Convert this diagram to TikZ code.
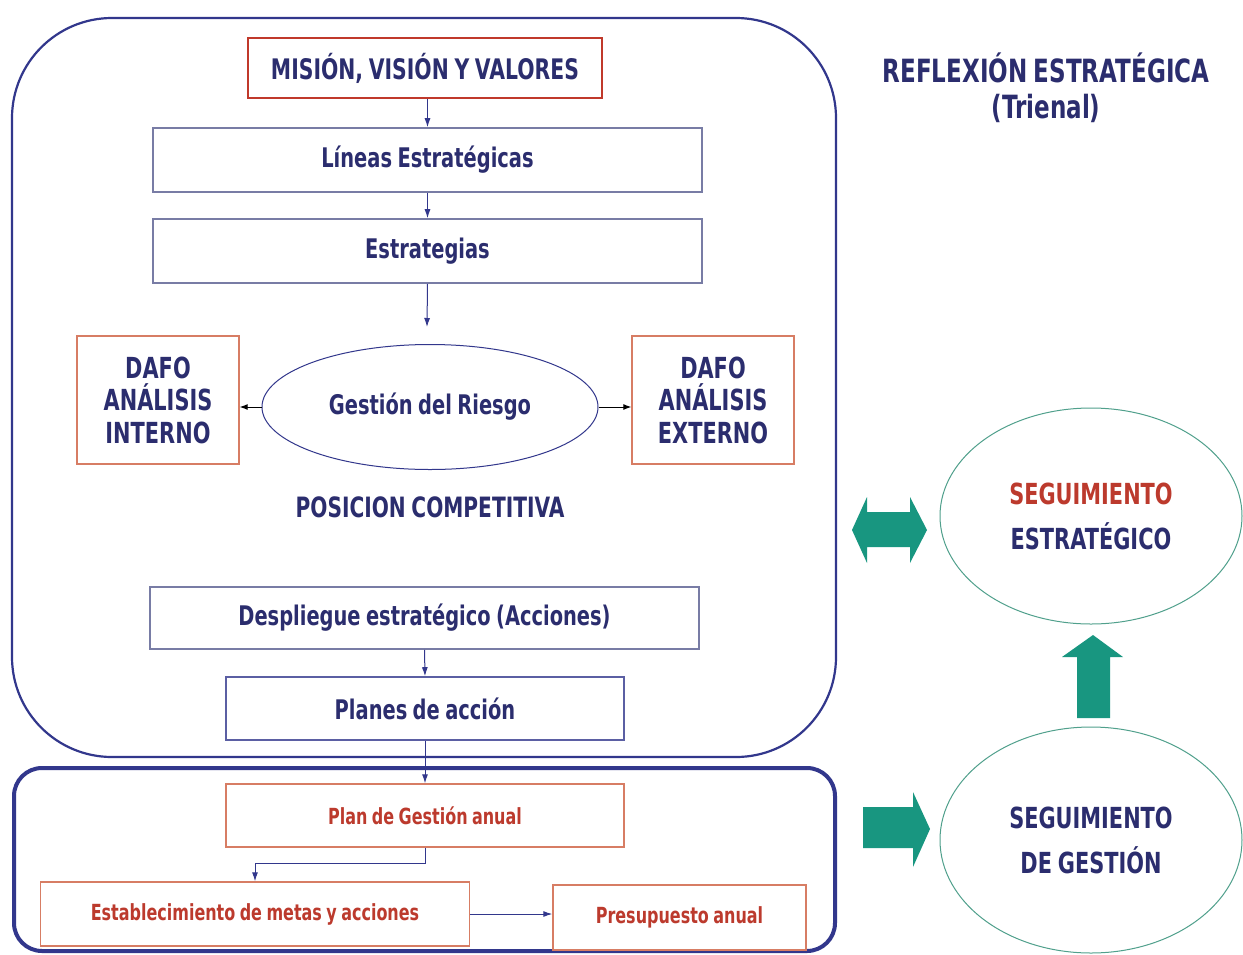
\documentclass[tikz,border=0pt]{standalone}
\usepackage{fontspec}
\setmainfont{DejaVu Sans}[FakeStretch=0.72,WordSpace=0.8]
\usetikzlibrary{shapes.geometric,arrows.meta}
\definecolor{navy}{RGB}{43,45,110}
\definecolor{frameblue}{RGB}{50,55,140}
\definecolor{graybox}{RGB}{120,124,165}
\definecolor{redbox}{RGB}{192,57,43}
\definecolor{orbox}{RGB}{215,125,100}
\definecolor{redtext}{RGB}{188,58,45}
\definecolor{teal}{RGB}{24,150,128}
\definecolor{tealline}{RGB}{80,160,140}
\newcommand{\fsz}[2]{\fontsize{#1}{#2}\selectfont\bfseries}
\begin{document}
\begin{tikzpicture}[x=1pt,y=-1pt,
  bluebox/.style={draw=graybox,line width=1.6pt,rectangle,inner sep=0pt,text=navy,font=\fsz{27}{32}},
  redbx/.style={draw=redbox,line width=2.4pt,rectangle,inner sep=0pt,text=navy,font=\fsz{28.3}{34}},
  dafo/.style={draw=orbox,line width=1.4pt,rectangle,inner sep=0pt,text=navy,font=\fsz{29}{32.5},align=center,minimum width=162pt,minimum height=128pt},
  lowbox/.style={draw=orbox,line width=1.4pt,rectangle,inner sep=0pt,text=redtext,font=\fsz{22.2}{26}},
  arr/.style={draw=frameblue,line width=1pt,-{Latex[length=9pt,width=6pt]}},
  barr/.style={draw=black,line width=1pt,-{Latex[length=8pt,width=6pt]}},
  tealfill/.style={fill=teal,draw=none},
  segell/.style={ellipse,draw=tealline,line width=1pt,inner sep=0pt,align=center,font=\fsz{29}{45}}
]
\useasboundingbox (0,0) rectangle (1243,954);
\fill[white] (0,0) rectangle (1243,954);

% frames
\draw[frameblue,line width=2.2pt,rounded corners=100pt] (12,18) rectangle (836,757);
\draw[frameblue,line width=4pt,rounded corners=28pt] (14,768) rectangle (835,951);

% top chain
\node[redbx,minimum width=354pt,minimum height=60pt] (mision) at (425,68) {MISIÓN, VISIÓN Y VALORES};
\node[bluebox,minimum width=549pt,minimum height=64pt] (lineas) at (427.5,160) {Líneas Estratégicas};
\node[bluebox,minimum width=549pt,minimum height=64pt] (estrat) at (427.5,251) {Estrategias};
\coordinate (c1) at (427,327);

\node[ellipse,draw=frameblue,line width=1pt,minimum width=336pt,minimum height=125pt,inner sep=0pt,text=navy,font=\fsz{27}{32}] (riesgo) at (430,407) {Gestión del Riesgo};
\node[dafo] (dafoI) at (158,400) {DAFO\\ANÁLISIS\\INTERNO};
\node[dafo] (dafoE) at (713,400) {DAFO\\ANÁLISIS\\EXTERNO};
\node[text=navy,font=\fsz{28}{32},inner sep=0pt] (posic) at (430,507) {POSICION COMPETITIVA};

\node[bluebox,minimum width=549pt,minimum height=62pt] (despl) at (424.5,618) {Despliegue estratégico (Acciones)};
\node[bluebox,draw=frameblue!80,minimum width=398pt,minimum height=63pt] (planes) at (425,708.5) {Planes de acción};

% bottom chain
\node[lowbox,minimum width=398pt,minimum height=63pt] (plangest) at (425,815.5) {Plan de Gestión anual};
\node[lowbox,minimum width=429pt,minimum height=64pt] (estab) at (255,914) {Establecimiento de metas y acciones};
\node[lowbox,minimum width=253pt,minimum height=65pt] (presup) at (679.5,917.5) {Presupuesto anual};

% connectors
\draw[arr] (mision.south -| lineas.north) -- (lineas.north);
\draw[arr] (lineas) -- (estrat);
\draw[arr] (estrat.south) -- (c1);
\draw[barr] (riesgo.west) -- (dafoI.east |- riesgo.west);
\draw[barr] (riesgo.east) -- (dafoE.west |- riesgo.east);
\draw[arr] (despl.south) -- (planes.north);
\draw[arr] (planes.south) -- (plangest.north);
\draw[arr] (plangest.south) -- ++(0,16) -| (estab.north);
\draw[arr] (estab.east) -- (presup.west |- estab.east);

% right side
\node[text=navy,font=\fsz{32}{36},align=center,inner sep=0pt] (reflex) at (1046,88) {REFLEXIÓN ESTRATÉGICA\\(Trienal)};
\node[segell,minimum width=302pt,minimum height=216pt] (segEst) at (1091,516) {\textcolor{redtext}{SEGUIMIENTO}\\\textcolor{navy}{ESTRATÉGICO}};
\node[segell,minimum width=302pt,minimum height=226pt,text=navy] (segGes) at (1091,840) {SEGUIMIENTO\\DE GESTIÓN};

% teal block arrows
\fill[tealfill] (852,530) -- (867,497) -- (867,512) -- (910,512) -- (910,497) -- (927,530) -- (910,563) -- (910,547) -- (867,547) -- (867,563) -- cycle;
\fill[tealfill] (1093,635) -- (1123,657) -- (1110,657) -- (1110,718) -- (1077,718) -- (1077,657) -- (1062,657) -- cycle;
\fill[tealfill] (863,807) -- (913,807) -- (913,792) -- (930,829) -- (913,867) -- (913,848) -- (863,848) -- cycle;
\end{tikzpicture}
\end{document}
